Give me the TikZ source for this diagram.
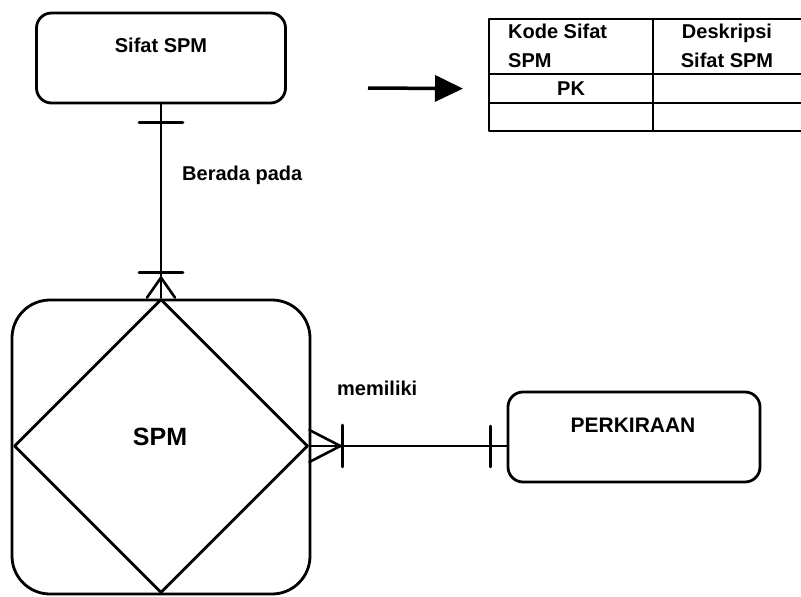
\documentclass[tikz,border=0pt]{standalone}
\usepackage{fontspec}
\setmainfont{Liberation Sans}
\usetikzlibrary{shapes.geometric,arrows.meta,calc}
\begin{document}
\begin{tikzpicture}[x=1pt,y=-1pt, line join=round, line cap=round,
  ent/.style={draw, line width=2.8pt, rounded corners=15pt, inner sep=0pt},
  lbl/.style={font=\bfseries\fontsize{20}{29}\selectfont, inner sep=0pt},
  rel/.style={line width=2.6pt},
  cell/.style={draw, line width=2.2pt, inner sep=0pt, anchor=north west}]
\useasboundingbox (0,0) rectangle (801,597);

% entities
\node[ent, minimum width=249pt, minimum height=90pt] (sifat) at (161,58) {};
\node[lbl] (sifatT) at (161,45) {Sifat SPM};

\node[ent, rounded corners=38pt, minimum width=298pt, minimum height=294pt] (spmbox) at (161,447) {};
\node[draw, diamond, line width=2.8pt, minimum width=294pt, minimum height=294pt, inner sep=0pt] (spm) at (161,446) {};
\node[lbl, font=\bfseries\fontsize{25}{29}\selectfont] (spmT) at (160,437) {SPM};

\node[ent, minimum width=252pt, minimum height=90pt] (perk) at (634,437) {};
\node[lbl, font=\bfseries\fontsize{21}{29}\selectfont] (perkT) at (633,425) {PERKIRAAN};

% relationship Sifat SPM -- SPM
\draw[rel] (sifat.south) -- (spm.north);
\draw[rel] ($(sifat.south)+(-22,18)$) -- ++(44,0);
\coordinate (ft) at ($(spm.north)+(0,-20)$);
\draw[rel] ($(ft)+(-22,-5)$) -- ++(44,0);
\draw[rel] (ft) -- ($(spm.north)+(-14,0)$);
\draw[rel] (ft) -- ($(spm.north)+(14,0)$);
\node[lbl, anchor=west] (berada) at (182,175) {Berada pada};

% relationship SPM -- PERKIRAAN
\draw[rel] (spm.east) -- (spm.east -| perk.west);
\coordinate (fr) at ($(spm.east)+(31,0)$);
\draw[rel] ($(fr)+(2,-21)$) -- ++(0,42);
\draw[rel] (fr) -- ($(spm.east)+(0,-16)$);
\draw[rel] (fr) -- ($(spm.east)+(0,16)$);
\draw[rel] ($(spm.east -| perk.west)+(-16,-20)$) -- ++(0,41);
\node[lbl, anchor=west] (memiliki) at (337,388) {memiliki};

% table
\node[cell, minimum width=164pt, minimum height=55pt] (h1) at (488,18) {};
\node[cell, minimum width=164pt, minimum height=55pt] (h2) at (652,18) {};
\node[cell, minimum width=164pt, minimum height=29pt] (r1) at (488,73) {};
\node[cell, minimum width=164pt, minimum height=29pt] (r2) at (652,73) {};
\node[cell, minimum width=164pt, minimum height=28pt] (s1) at (488,102) {};
\node[cell, minimum width=164pt, minimum height=28pt] (s2) at (652,102) {};
\node[lbl, anchor=north west, align=left] (kode) at (508,24) {Kode Sifat\\SPM};
\node[lbl, anchor=north, align=center] (desk) at (727,24) {Deskripsi\\Sifat SPM};
\node[lbl] (pk) at (r1.center) {PK};

% arrow
\coordinate (a1) at (368,88);
\draw[line width=3.5pt, line cap=butt, -{Triangle[length=28pt,width=26pt]}] (a1) -- ($(r1.west)+(-25,0)$);
\end{tikzpicture}
\end{document}
